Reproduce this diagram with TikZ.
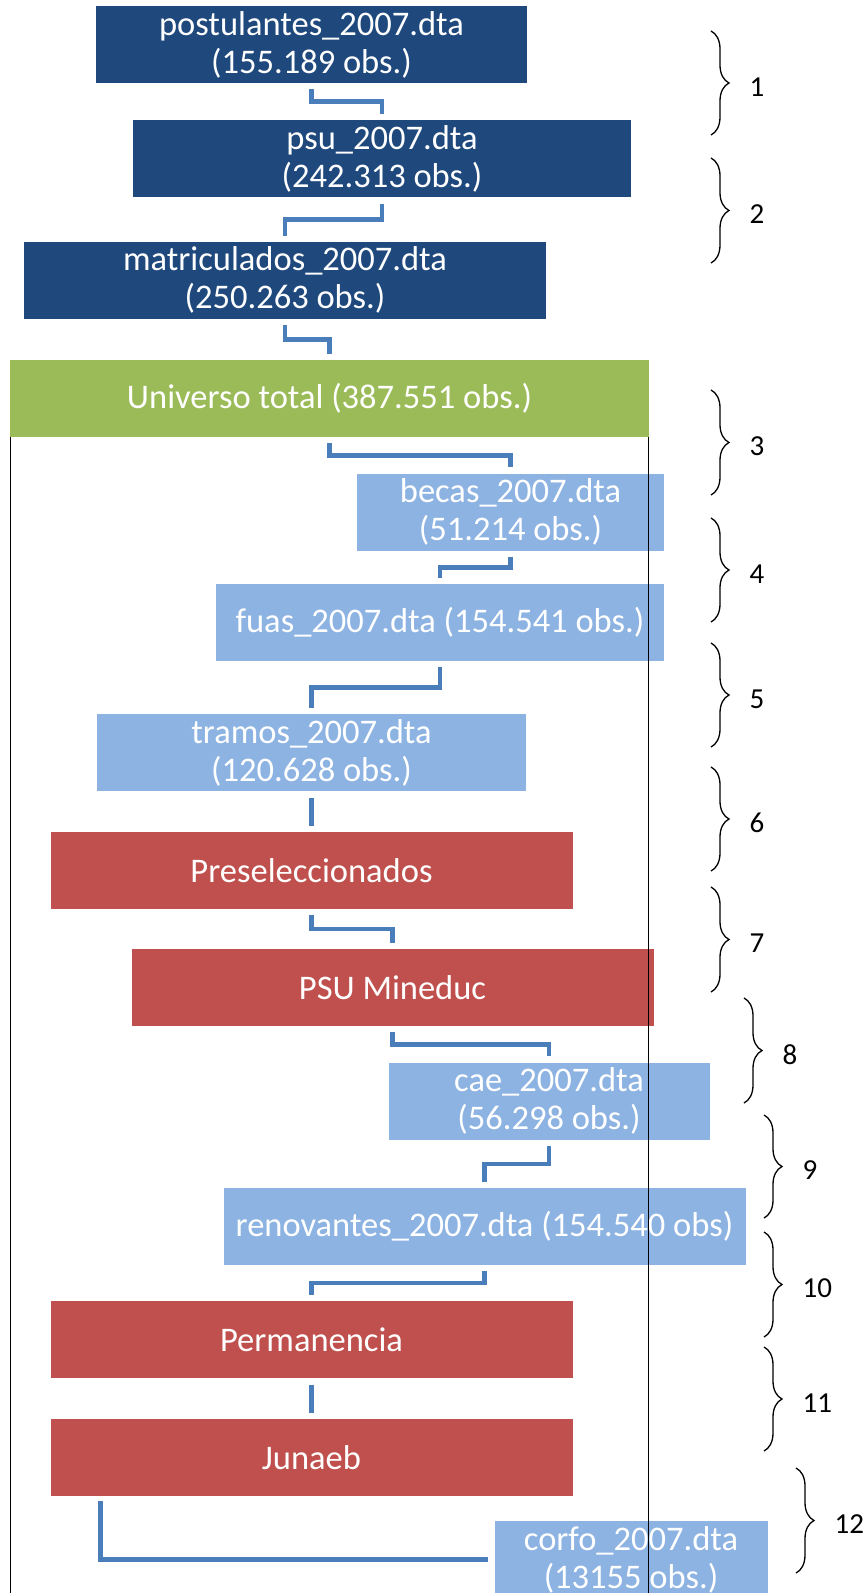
\documentclass[tikz,border=0pt]{standalone}
\usepackage{fontspec}
\setmainfont{Carlito}
\usepackage{xcolor}
\usepackage{tikz}
\usetikzlibrary{positioning,calc,decorations.pathreplacing}
\definecolor{navyfill}{HTML}{1F497D}
\definecolor{totalfill}{HTML}{9BBB59}
\definecolor{filefill}{HTML}{8DB3E2}
\definecolor{filterfill}{HTML}{C0504D}
\definecolor{linkblue}{HTML}{4A7EBB}

\begin{document}
\begin{tikzpicture}[x=1pt, y=-1pt, box/.style={minimum height=77pt, inner sep=0pt, text=white, align=center, font=\fontsize{34.5}{38}\selectfont}, source/.style={box, fill=navyfill}, total/.style={box, fill=totalfill}, datafile/.style={box, fill=filefill}, filter/.style={box, fill=filterfill}, link/.style={draw=linkblue, line width=4.5pt}, elbow/.style={to path={([yshift=-6pt]\tikztostart.south) |- ($(\tikztostart.south)!0.5!(\tikztotarget.north)$) -| ([yshift=6pt]\tikztotarget.north)}}, brace/.style={decorate, decoration={brace, amplitude=18pt}, line width=1.3pt}, num/.style={right, inner sep=0pt, xshift=38pt, yshift=-4pt, font=\fontsize{29}{32}\selectfont}, frame/.style={line width=1.3pt}]
\useasboundingbox (0,0) rectangle (867,1593);
\coordinate (pagebottom) at (0,1593);
% merge of the source files
\node[source, minimum width=431pt] (postulantes) at (311.5,44.5) {postulantes\_2007.dta\\(155.189 obs.)};
\node[source, minimum width=498pt, below=37pt of postulantes, xshift=70.5pt] (psu) {psu\_2007.dta\\(242.313 obs.)};
\node[source, minimum width=522pt, below=44pt of psu, xshift=-97pt] (matriculados) {matriculados\_2007.dta\\(250.263 obs.)};
\node[total, minimum width=639pt, below=41pt of matriculados, xshift=44.5pt] (universo) {Universo total (387.551 obs.)};
% files and filters added to the universe
\node[datafile, minimum width=307pt, below=36pt of universo, xshift=181pt] (becas) {becas\_2007.dta\\(51.214 obs.)};
\node[datafile, minimum width=448pt, below=33pt of becas, xshift=-70.5pt] (fuas) {fuas\_2007.dta (154.541 obs.)};
\node[datafile, minimum width=429pt, below=53pt of fuas, xshift=-128.5pt] (tramos) {tramos\_2007.dta\\(120.628 obs.)};
\node[filter, minimum width=522pt, below=40pt of tramos] (preseleccionados) {Preseleccionados};
\node[filter, minimum width=522pt, below=40pt of preseleccionados, xshift=81pt] (psumineduc) {PSU Mineduc};
\node[datafile, minimum width=321pt, below=36pt of psumineduc, xshift=156.5pt] (cae) {cae\_2007.dta\\(56.298 obs.)};
\node[datafile, minimum width=522pt, below=48pt of cae, xshift=-64.5pt] (renovantes) {renovantes\_2007.dta (154.540 obs)};
\node[filter, minimum width=522pt, below=36pt of renovantes, xshift=-173pt] (permanencia) {Permanencia};
\node[filter, minimum width=522pt, below=40pt of permanencia] (junaeb) {Junaeb};
\node[datafile, minimum width=273pt, below=25pt of junaeb, xshift=319.5pt] (corfo) {corfo\_2007.dta\\(13155 obs.)};
% connectors
\draw[link] (postulantes) to[elbow] (psu);
\draw[link] (psu) to[elbow] (matriculados);
\draw[link] (matriculados) to[elbow] (universo);
\draw[link] (universo) to[elbow] (becas);
\draw[link] (becas) to[elbow] (fuas);
\draw[link] (fuas) to[elbow] (tramos);
\draw[link] (tramos) to[elbow] (preseleccionados);
\draw[link] (preseleccionados) to[elbow] (psumineduc);
\draw[link] (psumineduc) to[elbow] (cae);
\draw[link] (cae) to[elbow] (renovantes);
\draw[link] (renovantes) to[elbow] (permanencia);
\draw[link] (permanencia) to[elbow] (junaeb);
\draw[link] ([xshift=50pt, yshift=-5pt]junaeb.south west) |- ([xshift=-6pt]corfo.west);
% frame of the universe
\draw[frame] ([xshift=1pt]universo.south west) -- ([xshift=1pt]universo.south west |- pagebottom);
\draw[frame] ([xshift=-1pt]universo.south east) -- ([xshift=-1pt]universo.south east |- pagebottom);
% steps
\foreach \n/\x/\top/\bot in {1/711/31/135, 2/711/158/263, 3/711/390/495, 4/711/518/622, 5/711/643/747, 6/711/767/871, 7/711/887/992, 8/744/998/1103, 9/764/1115/1218, 10/764/1232/1337, 11/764/1347/1451, 12/796/1468/1573}
  \draw[brace] (\x,\top) -- node[num] {\n} (\x,\bot);
\end{tikzpicture}
\end{document}
